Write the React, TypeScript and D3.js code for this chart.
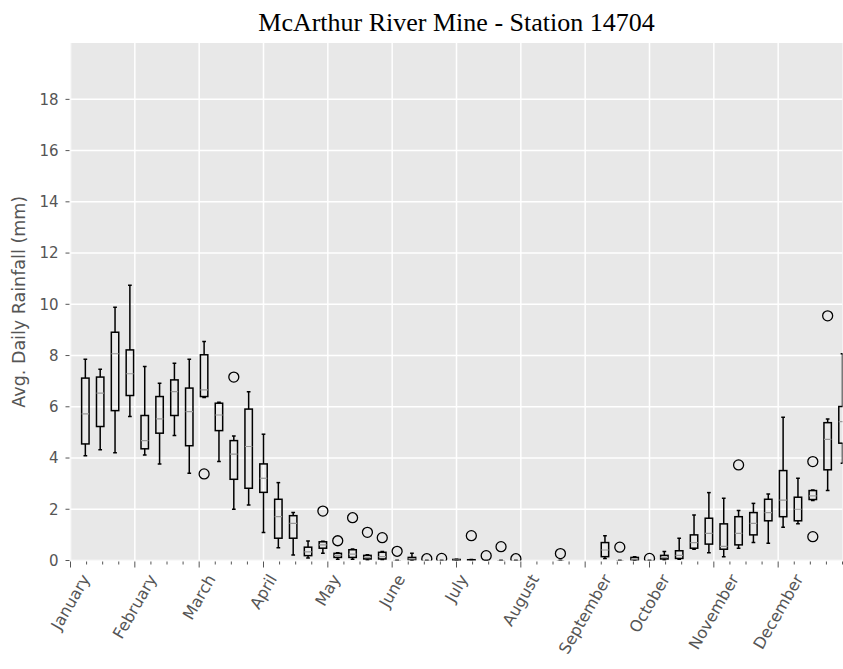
import React, { useEffect, useRef } from 'react';
import * as d3 from 'd3';

const W = 843;
const H = 669;

const titleText = 'McArthur River Mine - Station 14704';
const yLabelText = 'Avg. Daily Rainfall (mm)';
const monthLabels = ['January', 'February', 'March', 'April', 'May', 'June', 'July', 'August', 'September', 'October', 'November', 'December'];
const yTicks = [0, 2, 4, 6, 8, 10, 12, 14, 16, 18];

// weekly boxplot statistics (week 1..52); null = no data
const whiskerLow: (number | null)[] = [4.09, 4.32, 4.21, 5.62, 4.12, 3.77, 4.88, 3.41, 6.36, 3.86, 2.0, 2.17, 1.09, 0.5, 0.21, 0.1, 0.28, 0.05, 0.05, 0.02, 0.03, 0, 0, 0, 0, 0, 0, 0, 0, 0, null, null, 0, null, null, 0.08, 0, 0, 0, 0.02, 0.05, 0.44, 0.3, 0.15, 0.48, 0.7, 0.67, 1.3, 1.43, 2.34, 2.73, 3.8];
const quart1: (number | null)[] = [4.55, 5.23, 5.85, 6.44, 4.36, 4.97, 5.66, 4.48, 6.4, 5.07, 3.17, 2.82, 2.66, 0.87, 0.87, 0.19, 0.48, 0.12, 0.12, 0.06, 0.06, 0, 0.03, 0, 0, 0, 0, 0, 0, 0, null, null, 0, null, null, 0.15, 0, 0.02, 0, 0.06, 0.08, 0.48, 0.64, 0.44, 0.61, 1.0, 1.55, 1.71, 1.55, 2.38, 3.54, 4.58];
const median: (number | null)[] = [5.72, 6.53, 8.07, 7.29, 4.68, 5.53, 6.59, 5.81, 6.66, 5.68, 4.15, 4.45, 3.21, 1.71, 1.45, 0.34, 0.61, 0.2, 0.25, 0.12, 0.15, 0, 0.06, 0, 0, 0.02, 0, 0, 0, 0, null, null, 0, null, null, 0.41, 0, 0.05, 0, 0.12, 0.2, 0.7, 1.06, 0.55, 1.06, 1.45, 1.87, 2.36, 2.0, 2.52, 4.73, 5.42];
const quart3: (number | null)[] = [7.12, 7.16, 8.91, 8.22, 5.66, 6.4, 7.05, 6.73, 8.03, 6.14, 4.68, 5.91, 3.77, 2.39, 1.75, 0.52, 0.73, 0.28, 0.42, 0.2, 0.32, 0, 0.12, 0, 0, 0.04, 0.03, 0, 0, 0, null, null, 0, null, null, 0.7, 0, 0.12, 0, 0.2, 0.38, 1.0, 1.65, 1.43, 1.71, 1.87, 2.39, 3.51, 2.47, 2.73, 5.38, 6.01];
const whiskerHigh: (number | null)[] = [7.86, 7.47, 9.89, 10.74, 7.57, 6.92, 7.7, 7.86, 8.55, 6.18, 4.86, 6.59, 4.93, 3.04, 1.87, 0.76, 0.75, 0.3, 0.45, 0.22, 0.35, 0, 0.28, 0, 0, 0.05, 0.04, 0, 0, 0, null, null, 0, null, null, 0.97, 0, 0.15, 0, 0.35, 0.87, 1.78, 2.65, 2.43, 1.95, 2.23, 2.6, 5.59, 3.21, 2.75, 5.52, 8.07];
const outliers: number[][] = [
  [], [], [], [], [], [], [], [], [3.38], [],
  [7.16], [], [], [], [], [], [1.93], [0.77], [1.67], [1.1],
  [0.89], [0.36], [], [0.07], [0.08], [], [0.97], [0.19], [0.54], [0.07],
  [], [], [0.27], [], [], [], [0.52], [], [0.08], [],
  [], [], [], [], [3.73], [], [], [], [], [3.86, 0.93],
  [9.55], [],
];

export default function App() {
  const ref = useRef<SVGSVGElement>(null);

  useEffect(() => {
    const svg = d3.select(ref.current);
    svg.selectAll('*').remove();

    const left = 70.5, right = 842.5, top = 43, bottom = 560.5;
    const x = d3.scaleLinear().domain([0, 52]).range([left, right]);
    const y = d3.scaleLinear().domain([0, 20.2]).range([bottom, top]);
    const tickColor = '#555555';
    const sans = 'DejaVu Sans';

    svg.append('rect').attr('x', 0).attr('y', 0).attr('width', W).attr('height', H).attr('fill', '#ffffff');

    const defs = svg.append('defs');
    defs.append('clipPath').attr('id', 'plotclip')
      .append('rect').attr('x', left).attr('y', top).attr('width', right - left).attr('height', bottom - top);

    svg.append('rect').attr('x', left).attr('y', top).attr('width', right - left).attr('height', bottom - top)
      .attr('fill', '#e8e8e8');

    const majorPos = monthLabels.map((_, k) => (k * 52) / 12);
    const minorPos = d3.range(49).map((i) => (i * 52) / 48);

    const grid = svg.append('g').attr('clip-path', 'url(#plotclip)');
    grid.selectAll('line.hg').data(yTicks).enter().append('line')
      .attr('x1', left).attr('x2', right).attr('y1', (d) => y(d)).attr('y2', (d) => y(d))
      .attr('stroke', '#ffffff').attr('stroke-width', 1.5);
    grid.selectAll('line.vg').data(majorPos).enter().append('line')
      .attr('y1', top).attr('y2', bottom).attr('x1', (d) => x(d)).attr('x2', (d) => x(d))
      .attr('stroke', '#ffffff').attr('stroke-width', 1.5);

    const plot = svg.append('g').attr('clip-path', 'url(#plotclip)');
    const bw = 0.5;
    const cap = 0.125;
    d3.range(52).forEach((i) => {
      const pos = i + 1;
      const lo = whiskerLow[i], a = quart1[i], m = median[i], b = quart3[i], hi = whiskerHigh[i];
      const g = plot.append('g');
      if (lo !== null && a !== null && m !== null && b !== null && hi !== null) {
        const line = (x1: number, y1: number, x2: number, y2: number, color = '#000', w = 1.5) =>
          g.append('line').attr('x1', x1).attr('y1', y1).attr('x2', x2).attr('y2', y2)
            .attr('stroke', color).attr('stroke-width', w);
        line(x(pos), y(b), x(pos), y(hi));
        line(x(pos), y(a), x(pos), y(lo));
        line(x(pos - cap), y(hi), x(pos + cap), y(hi));
        line(x(pos - cap), y(lo), x(pos + cap), y(lo));
        g.append('rect')
          .attr('x', x(pos - bw / 2)).attr('y', y(b))
          .attr('width', x(pos + bw / 2) - x(pos - bw / 2)).attr('height', Math.max(0, y(a) - y(b)))
          .attr('fill', 'none').attr('stroke', '#000').attr('stroke-width', 1.5);
        line(x(pos - bw / 2), y(m), x(pos + bw / 2), y(m), '#9a9a9a', 1.2);
      }
      outliers[i].forEach((v) => {
        g.append('circle').attr('cx', x(pos)).attr('cy', y(v)).attr('r', 5)
          .attr('fill', 'none').attr('stroke', '#000').attr('stroke-width', 1.3);
      });
    });

    // y axis ticks
    const yAxis = svg.append('g');
    yTicks.forEach((t) => {
      yAxis.append('line').attr('x1', left - 5).attr('x2', left - 1).attr('y1', y(t)).attr('y2', y(t))
        .attr('stroke', tickColor).attr('stroke-width', 1);
      yAxis.append('text').attr('x', left - 12).attr('y', y(t)).attr('dy', '0.35em')
        .attr('text-anchor', 'end').attr('font-family', sans).attr('font-size', 15)
        .attr('fill', tickColor).text(String(t));
    });

    // x axis ticks
    const xAxis = svg.append('g');
    minorPos.forEach((p, i) => {
      const major = i % 4 === 0 && i < 48;
      xAxis.append('line').attr('x1', x(p)).attr('x2', x(p)).attr('y1', bottom + 1).attr('y2', bottom + (major ? 7 : 4))
        .attr('stroke', tickColor).attr('stroke-width', 1);
    });
    const fs = 16;
    const ang = 60;
    const rad = (ang * Math.PI) / 180;
    monthLabels.forEach((lab, k) => {
      const t = xAxis.append('text').attr('font-family', sans).attr('font-size', fs)
        .attr('fill', tickColor).attr('text-anchor', 'middle').attr('dominant-baseline', 'central').text(lab);
      const node = t.node() as SVGTextElement;
      const L = node.getComputedTextLength();
      const h = fs * 1.1;
      const half = (L * Math.sin(rad) + h * Math.cos(rad)) / 2;
      const cx = x(majorPos[k]);
      const cy = bottom + 11 + half;
      t.attr('transform', `translate(${cx},${cy}) rotate(-${ang})`);
    });

    // y label
    svg.append('text').attr('transform', `translate(19,${(top + bottom) / 2}) rotate(-90)`)
      .attr('text-anchor', 'middle').attr('dominant-baseline', 'central')
      .attr('font-family', sans).attr('font-size', 17.5).attr('fill', tickColor).text(yLabelText);

    // title
    svg.append('text').attr('x', (left + right) / 2).attr('y', 31)
      .attr('text-anchor', 'middle').attr('font-family', 'Liberation Serif').attr('font-size', 26)
      .attr('fill', '#000').text(titleText);
  }, []);

  return (
    <svg ref={ref} width={W} height={H} style={{ position: 'absolute', left: 0, top: 0, display: 'block' }} />
  );
}
